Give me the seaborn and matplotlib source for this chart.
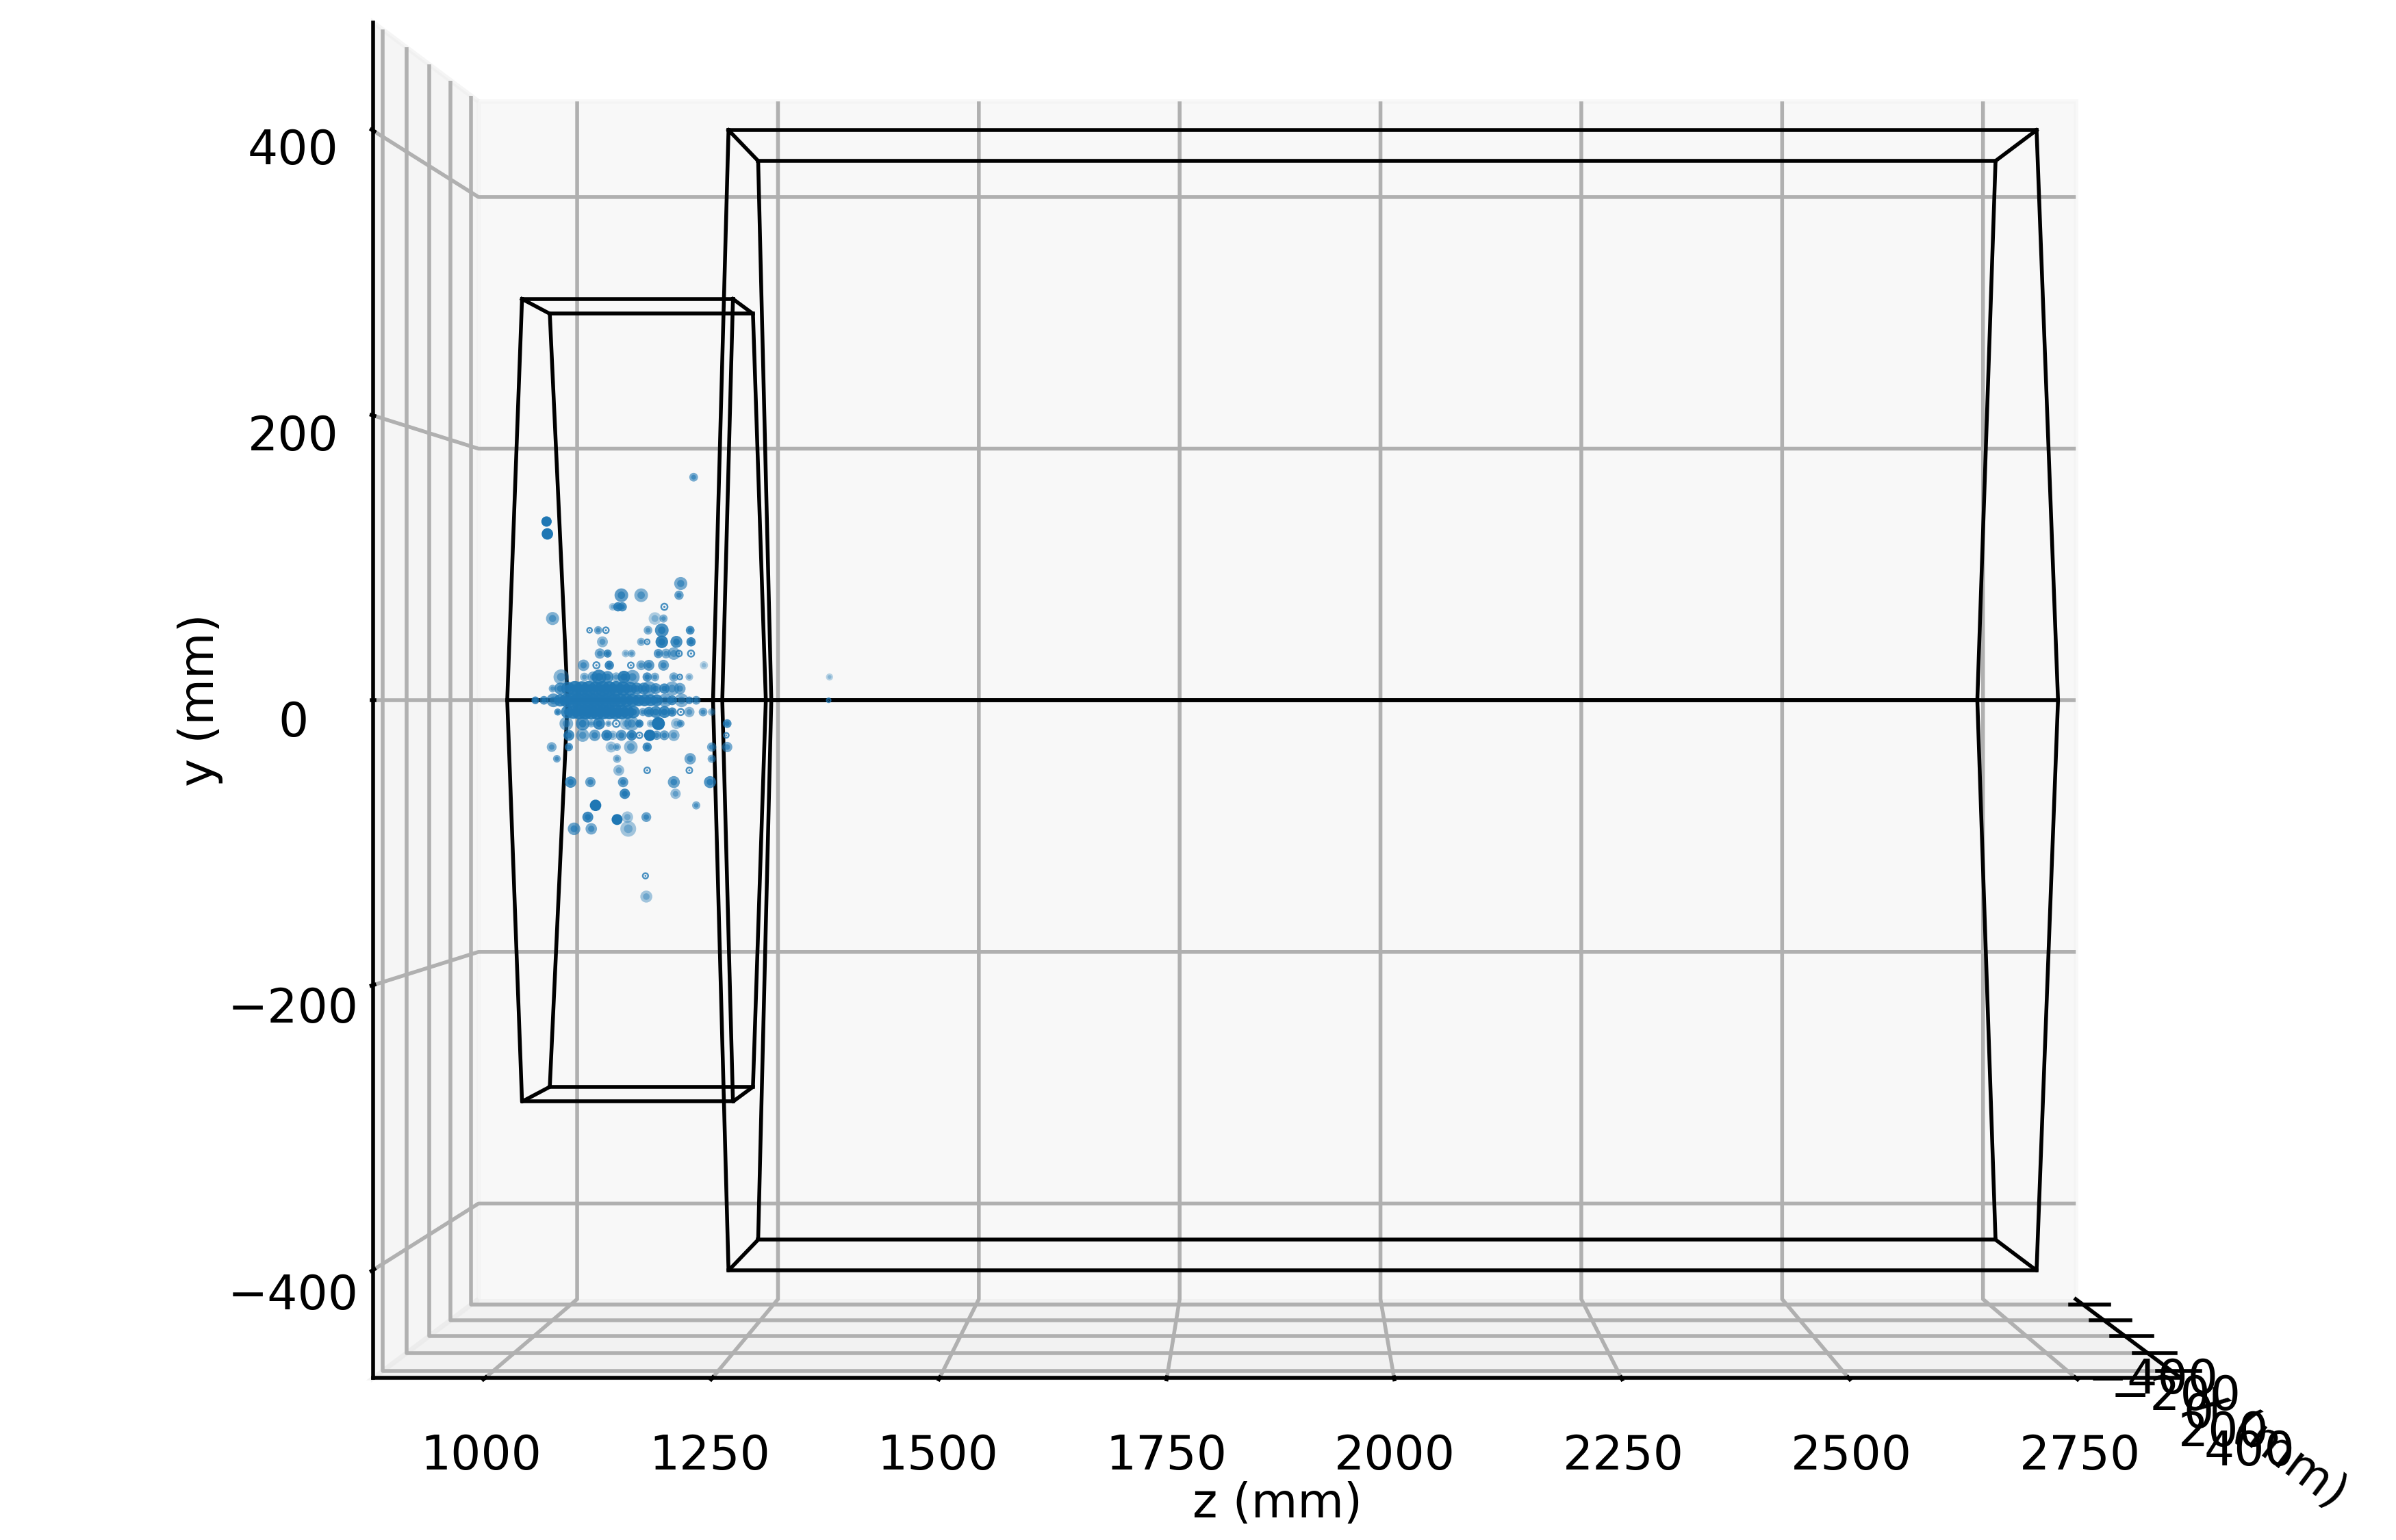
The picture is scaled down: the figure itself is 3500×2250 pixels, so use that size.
import numpy as np
import matplotlib
matplotlib.use("Agg")
import matplotlib.pyplot as plt
import seaborn as sns

# Hits, one entry per row of y values:
# (y, z values, energy-like size values, opacity values)
rows_y = [165.6, 132.7, 123.5, 86.7, 78.0, 69.4, 60.7, 52.0, 43.4, 34.7, 26.0, 17.3,
          8.7, 0.0, -8.7, -17.3, -26.0, -34.7, -43.4, -52.0, -60.7, -69.4, -78.0,
          -86.7, -88.5, -95.4, -130.3, -145.7]

rows_z = [
    [1193],
    [1022],
    [1023],
    [1178],
    [1109, 1132, 1176],
    [1099, 1105, 1110, 1159],
    [1029, 1148, 1158],
    [1072, 1082, 1091, 1140, 1156, 1189],
    [1087, 1132, 1139, 1156, 1173, 1190],
    [1084, 1093, 1114, 1121, 1152, 1161, 1170, 1176, 1190],
    [1065, 1080, 1095, 1120, 1132, 1141, 1158, 1205],
    [1039, 1066, 1076, 1083, 1093, 1103, 1112, 1122, 1139, 1148, 1170, 1177, 1188, 1351],
    [1029, 1038, 1047, 1055, 1063, 1071, 1079, 1087, 1095, 1103, 1111, 1119, 1127, 1135,
     1141, 1149, 1159, 1168, 1177],
    [1009, 1019, 1030, 1038, 1045, 1052, 1059, 1066, 1073, 1080, 1087, 1094, 1101, 1108,
     1115, 1122, 1129, 1136, 1143, 1150, 1160, 1168, 1179, 1188, 1196, 1350],
    [1035, 1046, 1053, 1060, 1067, 1074, 1081, 1088, 1095, 1102, 1109, 1116, 1123, 1134,
     1141, 1149, 1159, 1168, 1178, 1188, 1204, 1214],
    [1045, 1064, 1074, 1083, 1094, 1103, 1114, 1121, 1130, 1143, 1152, 1173, 1178, 1232],
    [1048, 1064, 1078, 1092, 1099, 1109, 1121, 1130, 1142, 1150, 1159, 1170, 1231],
    [1028, 1048, 1097, 1104, 1120, 1139, 1214, 1232],
    [1034, 1104, 1189, 1214],
    [1106, 1139, 1188],
    [1050, 1073, 1111, 1170, 1212],
    [1113, 1172],
    [1079, 1196],
    [1070, 1116, 1138],
    [1104],
    [1054, 1074, 1117],
    [1137],
    [1138],
]

rows_e = [
    [32],
    [38],
    [42],
    [48],
    [50, 50, 34],
    [28, 34, 34, 26],
    [48, 46, 30],
    [20, 30, 24, 32, 50, 32],
    [40, 30, 20, 46, 44, 34],
    [38, 30, 28, 28, 34, 36, 46, 24, 26],
    [42, 26, 34, 24, 36, 40, 40, 30],
    [56, 32, 40, 54, 44, 34, 46, 52, 34, 32, 34, 20, 28, 26],
    [28, 44, 50, 56, 54, 56, 52, 56, 54, 56, 52, 50, 44, 44, 54, 40, 38, 52, 42],
    [28, 32, 50, 46, 50, 56, 56, 56, 56, 54, 56, 56, 50, 50, 48, 48, 44, 44, 44, 44, 50,
     36, 50, 28, 32, 16],
    [26, 46, 50, 54, 54, 56, 56, 54, 54, 54, 54, 50, 46, 30, 38, 44, 44, 34, 26, 38, 32, 28],
    [50, 50, 28, 44, 24, 28, 44, 54, 30, 28, 48, 40, 28, 32],
    [40, 48, 42, 40, 34, 40, 38, 24, 42, 34, 36, 42, 20],
    [36, 30, 40, 28, 50, 34, 34, 38],
    [28, 30, 42, 30],
    [40, 24, 24],
    [42, 38, 38, 44, 44],
    [38, 38],
    [42, 30],
    [40, 42, 36],
    [40],
    [46, 42, 58],
    [22],
    [44],
]

rows_w = [
    [0.6],
    [1.0],
    [1.0],
    [0.6],
    [0.7, 0.55, 0.65],
    [0.4, 0.85, 0.8, 0.2],
    [0.55, 0.35, 0.55],
    [0.2, 0.6, 0.2, 0.55, 0.8, 0.8],
    [0.5, 0.5, 0.2, 0.9, 0.8, 0.85],
    [0.6, 0.8, 0.4, 0.5, 0.7, 0.55, 0.55, 0.2, 0.25],
    [0.6, 0.2, 0.85, 0.2, 0.55, 0.7, 0.65, 0.3],
    [0.5, 0.5, 0.6, 0.85, 0.75, 0.5, 0.9, 0.6, 0.75, 0.55, 0.55, 0.15, 0.4, 0.3],
    [0.55, 0.75, 0.85, 0.9, 0.9, 0.9, 0.9, 0.9, 0.9, 0.9, 0.9, 0.85, 0.8, 0.75, 0.6, 0.7,
     0.8, 0.55, 0.6],
    [0.85, 0.75, 0.7, 0.85, 0.9, 0.9, 0.9, 0.9, 0.9, 0.9, 0.9, 0.9, 0.9, 0.9, 0.9, 0.9,
     0.9, 0.9, 0.85, 0.85, 0.6, 0.8, 0.55, 0.75, 0.65, 0.2],
    [0.75, 0.85, 0.9, 0.9, 0.9, 0.9, 0.9, 0.9, 0.9, 0.9, 0.9, 0.9, 0.85, 0.6, 0.8, 0.8,
     0.85, 0.8, 0.25, 0.5, 0.6, 0.4],
    [0.55, 0.75, 0.5, 0.85, 0.5, 0.2, 0.4, 0.55, 0.85, 0.4, 1.0, 0.4, 0.6, 0.8],
    [0.8, 0.55, 0.65, 0.85, 0.4, 0.7, 0.85, 0.2, 1.0, 0.65, 0.65, 0.5, 0.15],
    [0.55, 0.75, 0.4, 0.5, 0.5, 0.8, 0.6, 0.6],
    [0.6, 0.5, 0.6, 0.55],
    [0.45, 0.2, 0.2],
    [0.8, 0.65, 0.7, 0.65, 0.75],
    [0.85, 0.45],
    [1.0, 0.55],
    [0.85, 0.4, 0.65],
    [1.0],
    [0.65, 0.6, 0.4],
    [0.15],
    [0.4],
]

# All hits sit at about the same depth
hit_depth = 65

# Detector outlines: hexagon in the x-y plane, swept along z
small_hex_x = [165, -123, -320, -123, 165, 310]
small_hex_y = [294, 294, 0, -294, -294, 0]
small_z = [1005, 1247]
big_hex_x = [214, -214, -420, -214, 214, 420]
big_hex_y = [415, 415, 0, -415, -415, 0]
big_z = [1246, 2737]

z_ticks = [1000, 1250, 1500, 1750, 2000, 2250, 2500, 2750]
xy_ticks = [-400, -200, 0, 200, 400]
z_lim = (877.2, 2865.5)
xy_lim = (-476, 476)

blue = sns.color_palette("tab10")[0]
plt.rcParams["font.family"] = ["DejaVu Sans"]

fig = plt.figure(figsize=(7, 4.5), dpi=500)
ax = fig.add_subplot(projection="3d")
ax.view_init(elev=0, azim=-90, vertical_axis="y")
ax.set_proj_type("persp", focal_length=1.1)
ax.set_box_aspect((4, 3, 4), zoom=1.141)


def draw_prism(hex_x, hex_y, z_ends):
    n = len(hex_x)
    for z_end in z_ends:
        ax.plot(hex_x + hex_x[:1], hex_y + hex_y[:1], [z_end] * (n + 1), color="k", lw=0.8)
    for px, py in zip(hex_x, hex_y):
        ax.plot([px, px], [py, py], z_ends, color="k", lw=0.8)


draw_prism(small_hex_x, small_hex_y, small_z)
draw_prism(big_hex_x, big_hex_y, big_z)

# Every hit is drawn as a soft disc with a darker core and a pale centre
z_all, y_all, e_all, w_all = [], [], [], []
for y, zs, es, ws in zip(rows_y, rows_z, rows_e, rows_w):
    for z, e, w in zip(zs, es, ws):
        z_all.append(z)
        y_all.append(y)
        e_all.append(e)
        w_all.append(w)

z_all = np.array(z_all, dtype=float)
y_all = np.array(y_all)
e_all = np.array(e_all, dtype=float)
w_all = np.array(w_all)
x_all = np.full_like(z_all, hit_depth)
area = 0.0033 * e_all ** 2

is_ring = w_all < 0.3
solid = ~is_ring
colors = np.tile(np.array(blue), (len(z_all), 1))
rgba = np.column_stack([colors, np.where(is_ring, 0.8, np.minimum(w_all, 1.0))])

ax.scatter(x_all[solid], y_all[solid], z_all[solid], s=area[solid], c=rgba[solid],
           linewidths=0, depthshade=False)
ax.scatter(x_all[solid], y_all[solid], z_all[solid], s=area[solid] * 0.3, c=rgba[solid],
           linewidths=0, depthshade=False)
ax.scatter(x_all[is_ring], y_all[is_ring], z_all[is_ring], s=area[is_ring] * 0.8,
           facecolors="none", edgecolors=rgba[is_ring], linewidths=0.35, depthshade=False)
ax.scatter(x_all[is_ring], y_all[is_ring], z_all[is_ring], s=area[is_ring] * 0.1,
           c=rgba[is_ring], linewidths=0, depthshade=False)

ax.set_xlim(xy_lim[1], xy_lim[0])
ax.set_ylim(*xy_lim)
ax.set_zlim(*z_lim)
ax.set_xticks(xy_ticks)
ax.set_yticks(xy_ticks)
ax.set_zticks(z_ticks)
ax.set_xlabel("x (mm)")
ax.set_ylabel("y (mm)")
ax.set_zlabel("z (mm)")
ax.yaxis.set_ticks_position("lower")
ax.yaxis.set_label_position("lower")
ax.tick_params(axis="z", pad=1.6)
ax.tick_params(axis="y", pad=2.5)
ax.tick_params(axis="x", pad=3)
ax.zaxis.labelpad = 0.8
ax.yaxis.labelpad = 1.5
ax.xaxis.labelpad = 1

ax.set_position([0.038, -0.225, 0.964, 1.5])
fig.savefig("out.png", dpi=500)
